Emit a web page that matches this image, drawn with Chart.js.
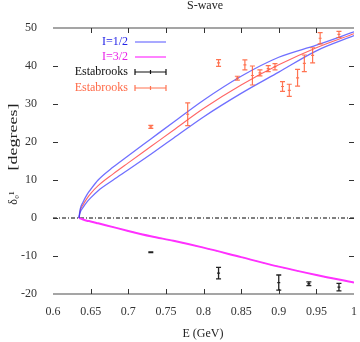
<!DOCTYPE html>
<html>
<head>
<meta charset="utf-8">
<script src="https://cdn.jsdelivr.net/npm/chart.js@4"></script>
<style>
  html, body { margin: 0; padding: 0; background: #fff; }
  #wrap { width: 360px; height: 342px; }
</style>
</head>
<body>
<div id="wrap"><canvas id="swave"></canvas></div>
<script>
// S-wave phase shifts
const energy = [0.6345, 0.636, 0.64, 0.645, 0.65, 0.66, 0.68, 0.70, 0.73, 0.76, 0.80, 0.85, 0.90, 0.95, 1.00];
const halfUpper = [0, 2.2, 4.2, 6.1, 7.5, 10.0, 13.4, 16.4, 20.8, 25.2, 31.0, 37.3, 42.3, 45.5, 49.0];
const halfCenter = [0, 1.8, 3.5, 5.1, 6.4, 8.5, 11.6, 14.5, 18.8, 23.1, 28.8, 35.0, 40.3, 44.8, 48.5];
const halfLower = [0, 1.4, 2.8, 4.2, 5.3, 7.2, 10.0, 12.7, 16.8, 21.0, 26.6, 32.8, 38.4, 44.0, 48.0];
const threeHalf = [0, -0.1, -0.4, -0.7, -0.9, -1.4, -2.4, -3.4, -4.8, -6.0, -7.8, -10.3, -12.8, -15.0, -17.0];

// Estabrooks data, I=1/2 (orange) and I=3/2 (black)
const estHalfE = [0.73, 0.779, 0.82, 0.845, 0.855, 0.865, 0.875, 0.886, 0.895, 0.905, 0.914, 0.925, 0.934, 0.945, 0.955, 0.98];
const estHalfVal = [24.0, 27.3, 40.8, 36.8, 40.3, 37.5, 38.2, 39.3, 39.8, 34.6, 33.6, 36.9, 40.7, 42.8, 47.3, 48.3];
const estHalfErr = [0.4, 3.0, 0.9, 0.5, 1.3, 2.5, 0.8, 0.8, 0.8, 1.3, 1.6, 2.2, 2.2, 2.0, 1.5, 0.8];
const estThreeE = [0.73, 0.82, 0.90, 0.94, 0.98];
const estThreeVal = [-9.0, -14.5, -17.0, -17.3, -18.2];
const estThreeErr = [0.1, 1.5, 2.0, 0.5, 1.0];

const xTicks = [0.6, 0.65, 0.7, 0.75, 0.8, 0.85, 0.9, 0.95, 1];
const yTicks = [-20, -10, 0, 10, 20, 30, 40, 50];

const SERIF = '"Liberation Serif", "DejaVu Serif", serif';
const BLUE = 'rgba(50,50,255,0.7)';
const RED = 'rgba(255,50,50,0.75)';
const MAGENTA = '#ff30ff';
const ORANGE = 'rgba(255,90,50,0.85)';

function pts(xs, ys) {
    return xs.map((x, i) => ({ x: x, y: ys[i] }));
}

function curve(label, values, color, width) {
    return {
        label: label,
        data: pts(energy, values),
        borderColor: color,
        borderWidth: width,
        pointRadius: 0,
        cubicInterpolationMode: 'monotone',
        fill: false
    };
}

// axes frame, inward ticks, zero line, error bars, legend and texts
const decorations = {
    id: 'decorations',
    beforeDatasetsDraw(chart) {
        const { ctx, chartArea: a, scales } = chart;
        const y0 = scales.y.getPixelForValue(0);
        ctx.save();
        ctx.strokeStyle = '#000';
        ctx.lineWidth = 1;
        ctx.setLineDash([4, 2, 1, 2]);
        ctx.beginPath();
        ctx.moveTo(a.left, y0);
        ctx.lineTo(a.right, y0);
        ctx.stroke();
        ctx.restore();
    },
    afterDatasetsDraw(chart) {
        const { ctx, chartArea: a, scales } = chart;
        const sx = scales.x, sy = scales.y;
        ctx.save();

        // frame lines top and bottom
        ctx.strokeStyle = '#888';
        ctx.lineWidth = 1.5;
        ctx.beginPath();
        ctx.moveTo(a.left, a.top); ctx.lineTo(a.right, a.top);
        ctx.moveTo(a.left, a.bottom); ctx.lineTo(a.right, a.bottom);
        ctx.stroke();

        // inward ticks
        ctx.strokeStyle = '#333';
        ctx.lineWidth = 1;
        ctx.beginPath();
        xTicks.slice(1, -1).forEach(v => {
            const px = Math.round(sx.getPixelForValue(v)) + 0.5;
            ctx.moveTo(px, a.bottom); ctx.lineTo(px, a.bottom - 5);
            ctx.moveTo(px, a.top); ctx.lineTo(px, a.top + 5);
        });
        yTicks.slice(1, -1).forEach(v => {
            const py = Math.round(sy.getPixelForValue(v)) + 0.5;
            ctx.moveTo(a.left, py); ctx.lineTo(a.left + 5, py);
            ctx.moveTo(a.right, py); ctx.lineTo(a.right - 5, py);
        });
        ctx.stroke();

        // error bars
        chart.data.datasets.forEach(ds => {
            if (!ds.errors) return;
            ctx.strokeStyle = ds.barColor;
            ctx.lineWidth = ds.barWidth;
            ds.data.forEach((p, i) => {
                const px = sx.getPixelForValue(p.x);
                const top = sy.getPixelForValue(p.y + ds.errors[i]);
                const bot = sy.getPixelForValue(p.y - ds.errors[i]);
                const py = sy.getPixelForValue(p.y);
                ctx.beginPath();
                ctx.moveTo(px, top); ctx.lineTo(px, bot);
                ctx.moveTo(px - 2.5, top); ctx.lineTo(px + 2.5, top);
                ctx.moveTo(px - 2.5, bot); ctx.lineTo(px + 2.5, bot);
                ctx.moveTo(px - 1.5, py); ctx.lineTo(px + 1.5, py);
                ctx.stroke();
            });
        });

        // legend
        ctx.font = '12px ' + SERIF;
        ctx.textAlign = 'right';
        ctx.textBaseline = 'middle';
        const rows = [
            { text: 'I=1/2', color: '#2424e8', line: BLUE, kind: 'line' },
            { text: 'I=3/2', color: '#e820e8', line: MAGENTA, kind: 'line' },
            { text: 'Estabrooks', color: '#111', line: '#111', kind: 'bar' },
            { text: 'Estabrooks', color: '#ff6a48', line: ORANGE, kind: 'bar' }
        ];
        const rowY = [42, 57, 72, 88];
        rows.forEach((r, i) => {
            const y = rowY[i];
            ctx.fillStyle = r.color;
            ctx.fillText(r.text, 128, y);
            ctx.strokeStyle = r.line;
            ctx.lineWidth = 1.2;
            ctx.beginPath();
            ctx.moveTo(135, y); ctx.lineTo(166, y);
            if (r.kind === 'bar') {
                ctx.moveTo(135, y - 3); ctx.lineTo(135, y + 3);
                ctx.moveTo(166, y - 3); ctx.lineTo(166, y + 3);
                ctx.moveTo(150.5, y - 2); ctx.lineTo(150.5, y + 2);
            }
            ctx.stroke();
        });

        // title and axis titles
        ctx.fillStyle = '#222';
        ctx.textAlign = 'center';
        ctx.fillText('S-wave', 205, 6);
        ctx.fillText('E (GeV)', 203, 334);
        ctx.translate(14, 0);
        ctx.rotate(-Math.PI / 2);
        ctx.fillText('δ\u2080\u00b9', -198, 0);
        // the [degrees] label is stretched along its length in the reference
        ctx.translate(-137, 0);
        ctx.scale(1.5, 1);
        ctx.fillText('[degrees]', 0, 0);
        ctx.restore();
    }
};

const greenCenter = curve('I=3/2 centre', threeHalf, 'rgba(0,190,0,0.45)', 1);
greenCenter.borderDash = [2, 5];

new Chart(document.getElementById('swave').getContext('2d'), {
    type: 'line',
    data: {
        datasets: [
            curve('I=1/2 upper', halfUpper, BLUE, 1.3),
            curve('I=1/2 lower', halfLower, BLUE, 1.3),
            curve('I=1/2', halfCenter, RED, 1.1),
            curve('I=3/2', threeHalf, MAGENTA, 2),
            greenCenter,
            {
                label: 'Estabrooks I=3/2',
                data: pts(estThreeE, estThreeVal),
                errors: estThreeErr,
                barColor: '#222',
                barWidth: 1.3,
                showLine: false,
                pointRadius: 0
            },
            {
                label: 'Estabrooks I=1/2',
                data: pts(estHalfE, estHalfVal),
                errors: estHalfErr,
                barColor: ORANGE,
                barWidth: 1.2,
                showLine: false,
                pointRadius: 0
            }
        ]
    },
    options: {
        responsive: true,
        maintainAspectRatio: false,
        animation: false,
        layout: { padding: { top: 28, left: 0, right: 0, bottom: 0 } },
        plugins: {
            legend: { display: false },
            tooltip: { enabled: false }
        },
        scales: {
            x: {
                type: 'linear',
                min: 0.6,
                max: 1.0,
                afterBuildTicks: s => { s.ticks = xTicks.map(v => ({ value: v })); },
                afterFit: s => { s.height = 48; },
                grid: { display: false },
                border: { display: false },
                ticks: {
                    padding: 3,
                    color: '#333',
                    font: { family: SERIF, size: 12 },
                    maxRotation: 0,
                    callback: v => String(v)
                }
            },
            y: {
                min: -20,
                max: 50,
                afterBuildTicks: s => { s.ticks = yTicks.map(v => ({ value: v })); },
                afterFit: s => { s.width = 53; },
                grid: { display: false },
                border: { display: false },
                ticks: {
                    padding: 8,
                    color: '#333',
                    font: { family: SERIF, size: 12 }
                }
            }
        }
    },
    plugins: [decorations]
});
</script>
</body>
</html>
